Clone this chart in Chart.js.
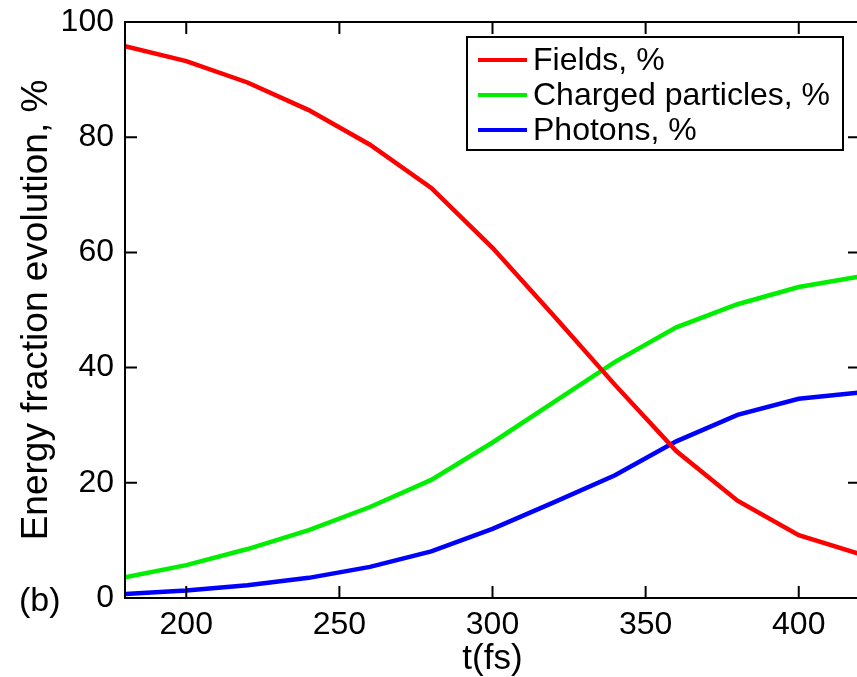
<!DOCTYPE html>
<html>
<head>
<meta charset="utf-8">
<script src="https://cdn.jsdelivr.net/npm/chart.js@4/dist/chart.umd.min.js"></script>
<style>
  html, body { margin: 0; padding: 0; background: #fff; overflow: hidden; }
  #wrap { width: 857px; height: 677px; overflow: hidden; }
</style>
</head>
<body>
<div id="wrap"><canvas id="chart" width="862" height="677"></canvas></div>
<script>
// time samples (fs)
const times = [180, 200, 220, 240, 260, 280, 300, 320, 340, 360, 380, 400, 420];
// energy fractions, %
const fields = [95.8, 93.2, 89.5, 84.7, 78.7, 71.2, 60.8, 49.0, 37.0, 25.5, 16.9, 10.9, 7.6];
const charged = [3.6, 5.7, 8.5, 11.8, 15.8, 20.5, 27.0, 34.0, 41.0, 47.0, 51.0, 54.0, 55.8];
const photons = [0.7, 1.3, 2.2, 3.5, 5.4, 8.1, 12.0, 16.6, 21.3, 27.2, 31.8, 34.6, 35.7];

const seriesNames = ['Fields, %', 'Charged particles, %', 'Photons, %'];
const seriesColors = ['#ff0000', '#00ee00', '#0000ff'];

const xTicks = [200, 250, 300, 350, 400];
const yTicks = [0, 20, 40, 60, 80, 100];

const FONT = "'Liberation Sans', Arial, Helvetica, sans-serif";

function toPoints(values) {
  return values.map((v, i) => ({ x: times[i], y: v }));
}

// box around the plot with inward ticks, MATLAB style
const framePlugin = {
  id: 'frame',
  afterDatasetsDraw(chart) {
    const { ctx, chartArea: a, scales: { x, y } } = chart;
    const len = 12;
    ctx.save();
    ctx.strokeStyle = '#000';
    ctx.lineWidth = 2;
    ctx.strokeRect(a.left, a.top, a.right - a.left, a.bottom - a.top);
    ctx.beginPath();
    xTicks.forEach(v => {
      const px = x.getPixelForValue(v);
      ctx.moveTo(px, a.bottom); ctx.lineTo(px, a.bottom - len);
      ctx.moveTo(px, a.top); ctx.lineTo(px, a.top + len);
    });
    yTicks.forEach(v => {
      const py = y.getPixelForValue(v);
      ctx.moveTo(a.left, py); ctx.lineTo(a.left + len, py);
      ctx.moveTo(a.right, py); ctx.lineTo(a.right - len, py);
    });
    ctx.stroke();

    // panel label
    ctx.fillStyle = '#000';
    ctx.font = '34px ' + FONT;
    ctx.textAlign = 'left';
    ctx.textBaseline = 'middle';
    ctx.fillText('(b)', 19, 602);
    ctx.restore();
  }
};

// boxed legend in the upper right
const legendPlugin = {
  id: 'boxLegend',
  afterDraw(chart) {
    const { ctx } = chart;
    const box = { left: 467, top: 37, width: 376, height: 113 };
    ctx.save();
    ctx.fillStyle = '#fff';
    ctx.fillRect(box.left, box.top, box.width, box.height);
    ctx.strokeStyle = '#000';
    ctx.lineWidth = 2;
    ctx.strokeRect(box.left, box.top, box.width, box.height);
    ctx.font = '32px ' + FONT;
    ctx.textAlign = 'left';
    ctx.textBaseline = 'middle';
    chart.data.datasets.forEach((ds, i) => {
      const rowY = 60 + i * 35;
      ctx.strokeStyle = ds.borderColor;
      ctx.lineWidth = 4;
      ctx.beginPath();
      ctx.moveTo(478, rowY);
      ctx.lineTo(527, rowY);
      ctx.stroke();
      ctx.fillStyle = '#000';
      ctx.fillText(ds.label, 533, rowY + 1);
    });
    ctx.restore();
  }
};

const datasets = [fields, charged, photons].map((values, i) => ({
  label: seriesNames[i],
  data: toPoints(values),
  borderColor: seriesColors[i],
  backgroundColor: seriesColors[i],
  borderWidth: 4.5,
  pointRadius: 0,
  tension: 0,
  fill: false
}));

new Chart(document.getElementById('chart'), {
  type: 'line',
  data: { datasets },
  plugins: [framePlugin, legendPlugin],
  options: {
    responsive: false,
    animation: false,
    devicePixelRatio: 1,
    layout: { padding: { left: 0, right: 2, top: 22, bottom: 0 } },
    plugins: {
      legend: { display: false },
      tooltip: { enabled: false }
    },
    scales: {
      x: {
        type: 'linear',
        min: 180,
        max: 420,
        afterBuildTicks: s => { s.ticks = xTicks.map(v => ({ value: v })); },
        afterFit: s => { s.height = 79; },
        grid: { display: false, drawTicks: false },
        border: { display: false },
        ticks: {
          color: '#000',
          padding: 8,
          maxRotation: 0,
          font: { family: FONT, size: 32 }
        },
        title: {
          display: true,
          text: 't(fs)',
          color: '#000',
          padding: { top: 0, bottom: 0 },
          font: { family: FONT, size: 35, lineHeight: 1 }
        }
      },
      y: {
        min: 0,
        max: 100,
        afterBuildTicks: s => { s.ticks = yTicks.map(v => ({ value: v })); },
        afterFit: s => { s.width = 125; },
        grid: { display: false, drawTicks: false },
        border: { display: false },
        ticks: {
          color: '#000',
          padding: 11,
          font: { family: FONT, size: 32, lineHeight: 0.5 }
        },
        title: {
          display: true,
          text: 'Energy fraction evolution, %',
          color: '#000',
          padding: { top: 18, bottom: 0 },
          font: { family: FONT, size: 37, lineHeight: 1 }
        }
      }
    }
  }
});
</script>
</body>
</html>
